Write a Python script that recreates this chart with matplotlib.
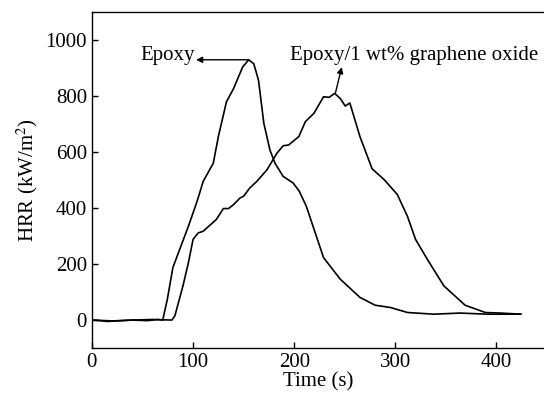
import numpy as np
import matplotlib.pyplot as plt

plt.rcParams['font.family'] = ['Liberation Serif', 'DejaVu Serif']
plt.rcParams['mathtext.fontset'] = 'stix'

# heat release rate, neat epoxy
t_ep = np.array([0, 8, 15, 25, 40, 55, 65, 70, 74.6, 80, 88, 95.4, 104, 110, 120, 125, 133, 140,
                 149, 155, 160, 164.7, 170, 176, 181, 189, 199, 205, 212, 229, 245.5, 265, 280,
                 295, 312, 338, 364, 391, 424])
hrr_ep = np.array([0, -2, -5, -3, 0, -2, 2, 0, 75, 187, 264, 335, 424, 495, 560, 655, 779, 826,
                   903, 929, 915, 856, 702, 607, 560, 513, 489, 460, 406, 223, 146, 81, 53,
                   45, 27, 21, 25, 21, 21])

# heat release rate, epoxy with 1 wt% graphene oxide
t_go = np.array([0, 20, 40, 60, 79, 82, 90, 95.4, 100, 105, 110, 123, 130, 135, 140, 146.5, 150,
                 156, 163, 173, 183, 189, 194.5, 204.6, 211, 219.5, 229, 234.6, 240, 245.5,
                 250.5, 255, 265, 277, 289, 302, 312, 320, 331.6, 348, 369, 389, 404, 424])
hrr_go = np.array([0, -3, 0, 2, 0, 15, 122, 205, 288, 311, 317, 359, 398, 398, 412, 436, 442,
                   471, 495, 536, 596, 622, 625, 655, 708, 738, 797, 795, 809, 791,
                   764, 775, 655, 540, 501, 448, 370, 288, 217, 122, 53, 27, 25, 21])

fig = plt.figure(figsize=(5.44, 3.96), dpi=100)
ax = fig.add_axes([0.169, 0.121, 0.831, 0.849])

ax.plot(t_ep, hrr_ep, color='black', lw=1.2)
ax.plot(t_go, hrr_go, color='black', lw=1.2)

arrow = dict(arrowstyle='-|>', color='black', lw=1, mutation_scale=9, shrinkA=0, shrinkB=0)
# arrows run from each curve's peak out to its label
ax.annotate('', xy=(103, 929), xytext=(155, 929), arrowprops=arrow)
ax.text(101.5, 929, 'Epoxy', ha='right', va='baseline', fontsize=15)
ax.annotate('', xy=(247, 903), xytext=(240.8, 811), arrowprops=arrow)
ax.text(196, 929, 'Epoxy/1 wt% graphene oxide', ha='left', va='baseline', fontsize=15)

ax.set_xlim(0, 447)
ax.set_ylim(-100, 1100)
ax.set_xticks([0, 100, 200, 300, 400])
ax.set_yticks([0, 200, 400, 600, 800, 1000])
ax.tick_params(direction='in', length=4, labelsize=15, width=1)
ax.spines['right'].set_visible(False)
for s in ax.spines.values():
    s.set_linewidth(1)

ax.set_xlabel('Time (s)', fontsize=15, labelpad=0)
ax.set_ylabel('HRR (kW/m$^2$)', fontsize=15, labelpad=4)

fig.savefig('out.png', dpi=100)
